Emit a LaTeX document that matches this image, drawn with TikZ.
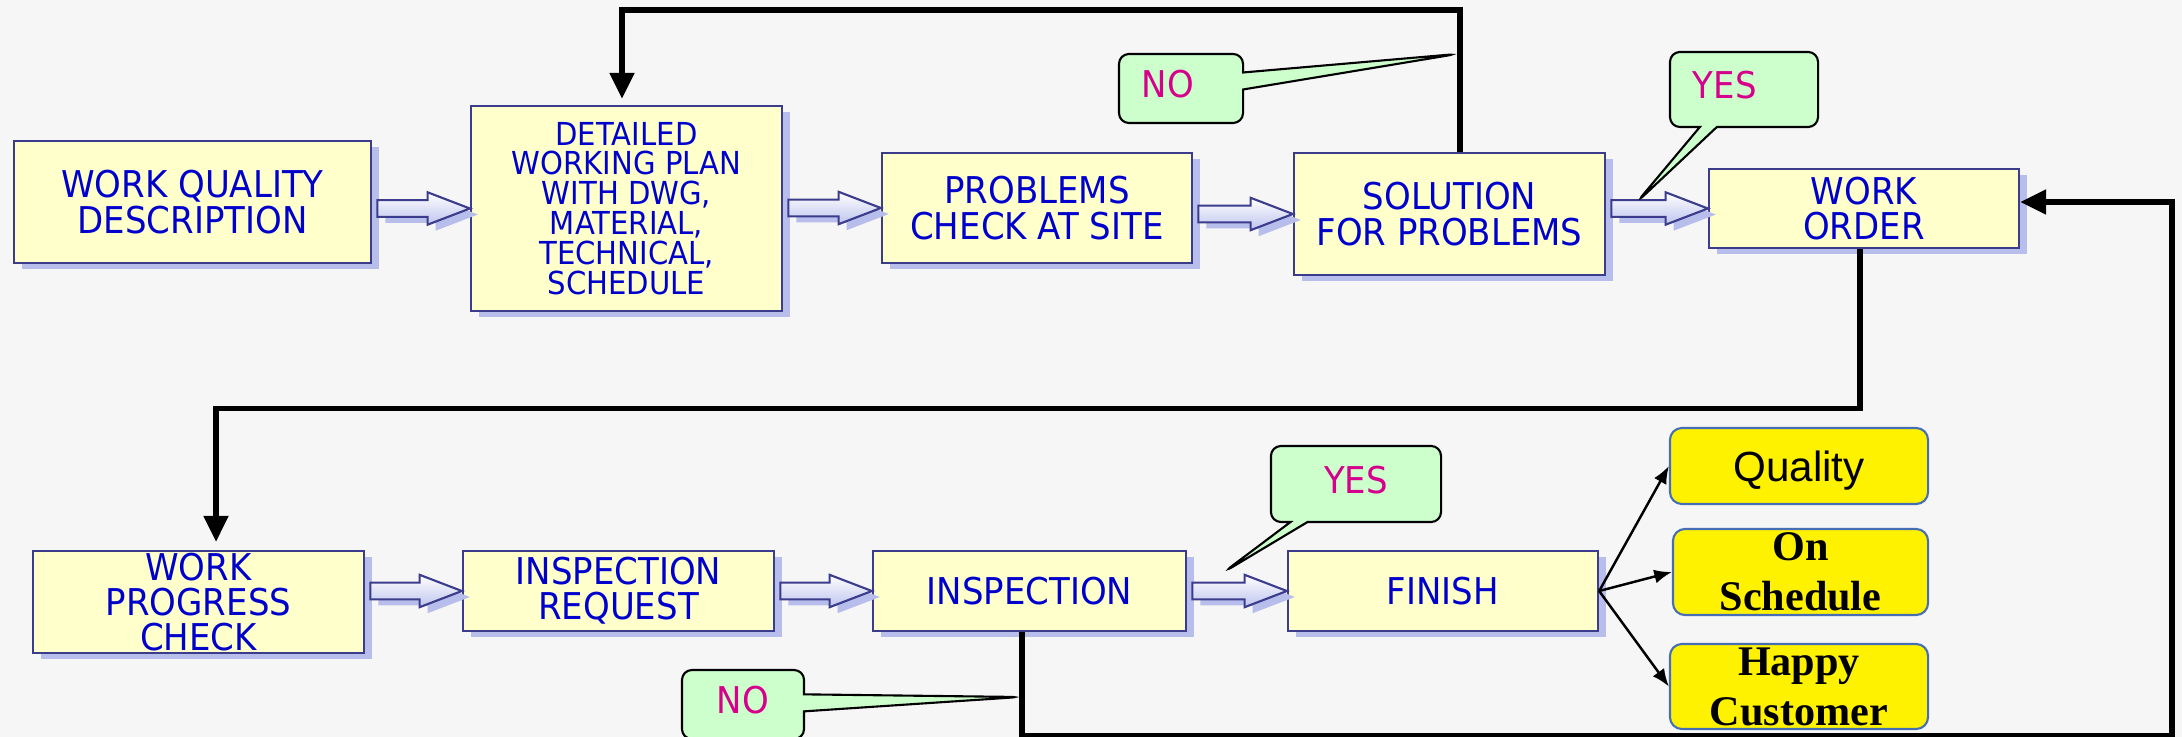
\documentclass[tikz,border=0pt]{standalone}
\usepackage{fontspec}
\usetikzlibrary{arrows.meta,calc,shadows,shapes.callouts}
\newfontfamily\boxfont{DejaVu Sans}[FakeStretch=0.92]
\newfontfamily\arialfont{Liberation Sans}
\newfontfamily\timesfont{Liberation Serif}
\definecolor{paper}{RGB}{246,246,246}
\definecolor{boxfill}{RGB}{255,255,204}
\definecolor{boxrim}{RGB}{60,60,140}
\definecolor{boxtext}{RGB}{0,0,204}
\definecolor{shadowblue}{RGB}{184,190,236}
\definecolor{arrowblue}{RGB}{190,196,238}
\definecolor{notefill}{RGB}{204,255,204}
\definecolor{notetext}{RGB}{214,0,140}
\definecolor{resultrim}{RGB}{70,110,180}

\newcommand{\fatarrow}[2]{%
  \path let \p1=(#1.east), \p2=(#2.west) in
    coordinate (fa-s) at (\x1+1.5pt,\y2)
    coordinate (fa-h) at (\x2-12pt,\y2)
    coordinate (fa-t) at (\x2,\y2);
  \draw[fat] ([yshift=2.4pt]fa-s) -- ([yshift=2.4pt]fa-h) -- ([yshift=4.6pt]fa-h)
    -- (fa-t) -- ([yshift=-4.6pt]fa-h) -- ([yshift=-2.4pt]fa-h) -- ([yshift=-2.4pt]fa-s) -- cycle;
}

\begin{document}
\begin{tikzpicture}[x=0.01cm,y=-0.01cm,
    stage/.style={draw=boxrim,line width=0.6pt,fill=boxfill,text=boxtext,align=center,inner sep=0pt,
      font=\boxfont\fontsize{10.5}{10}\selectfont,
      drop shadow={shadow xshift=0.08cm,shadow yshift=-0.06cm,fill=shadowblue,opacity=1}},
    note/.style={rectangle callout,draw=black,line width=0.6pt,fill=notefill,text=notetext,
      rounded corners=0.1cm,inner sep=0pt,callout pointer width=0.17cm,text depth=0.09cm,
      font=\boxfont\fontsize{10.5}{10}\selectfont},
    result/.style={draw=resultrim,line width=0.6pt,fill=yellow,rounded corners=0.12cm,
      align=center,inner sep=0pt},
    flow/.style={line width=1.5pt,-{Triangle[length=7.4pt,width=6.8pt]}},
    spoke/.style={line width=0.7pt,-{Latex[length=5pt,width=4pt]}},
    fat/.style={draw=boxrim,line width=0.6pt,top color=white,bottom color=arrowblue,
      preaction={fill=shadowblue,transform canvas={shift={(0.08cm,-0.06cm)}}}}]
\useasboundingbox (0,0) rectangle (2182,737);
\fill[paper] (0,0) rectangle (2182,737);

\node[stage,minimum width=3.57cm,minimum height=1.22cm] (describe) at (192.5,202) {WORK QUALITY\\DESCRIPTION};
\node[stage,minimum width=3.11cm,minimum height=2.05cm,font=\boxfont\fontsize{9}{8.5}\selectfont] (plan) at (626.5,208.5)
  {DETAILED\\WORKING PLAN\\WITH DWG,\\MATERIAL,\\TECHNICAL,\\SCHEDULE};
\node[stage,minimum width=3.10cm,minimum height=1.10cm] (check) at (1037,208) {PROBLEMS\\CHECK AT SITE};
\node[stage,minimum width=3.11cm,minimum height=1.22cm] (solve) at (1449.5,214) {SOLUTION\\FOR PROBLEMS};
\node[stage,minimum width=3.10cm,minimum height=0.79cm] (order) at (1864,208.5) {WORK\\ORDER};
\node[stage,minimum width=3.31cm,minimum height=1.02cm] (progress) at (198.5,602) {WORK\\PROGRESS\\CHECK};
\node[stage,minimum width=3.11cm,minimum height=0.80cm] (request) at (618.5,591) {INSPECTION\\REQUEST};
\node[stage,minimum width=3.13cm,minimum height=0.80cm] (inspect) at (1029.5,591) {INSPECTION};
\node[stage,minimum width=3.10cm,minimum height=0.80cm] (finish) at (1443,591) {FINISH};

\node[result,minimum width=2.58cm,minimum height=0.76cm,text depth=0pt,font=\arialfont\fontsize{12}{14}\selectfont] (qual) at (1799,466) {Quality};
\node[result,minimum width=2.55cm,minimum height=0.86cm,font=\timesfont\bfseries\fontsize{12}{14.2}\selectfont] (ontime) at (1800.5,572) {On\\Schedule};
\node[result,minimum width=2.58cm,minimum height=0.85cm,font=\timesfont\bfseries\fontsize{12}{14.2}\selectfont] (happy) at (1799,686.5) {Happy\\Customer};

\coordinate (toprail) at (0,10);
\coordinate (midrail) at (0,408.5);
\coordinate (corner) at (2172,736);
\coordinate (solout) at ([xshift=0.105cm]solve.north);
\coordinate (planin) at ([xshift=-0.045cm,yshift=0.06cm]plan.north);
\coordinate (orderout) at ([xshift=-0.04cm]order.south);
\coordinate (progin) at ([xshift=0.175cm,yshift=0.08cm]progress.north);
\coordinate (inspout) at ([xshift=-0.075cm]inspect.south);
\coordinate (orderin) at ([yshift=0.065cm]order.east);

\draw[flow] (solout) |- (planin |- toprail) -- (planin);
\draw[flow] (orderout) |- (progin |- midrail) -- (progin);
\draw[flow] (inspout) |- (corner) |- (orderin);

\fatarrow{describe}{plan}
\fatarrow{plan}{check}
\fatarrow{check}{solve}
\fatarrow{solve}{order}
\fatarrow{progress}{request}
\fatarrow{request}{inspect}
\fatarrow{inspect}{finish}

\draw[spoke] (finish.east) -- (qual.west);
\draw[spoke] (finish.east) -- (ontime.west);
\draw[spoke] (finish.east) -- (happy.west);

\coordinate (no-top-tip) at (1457,54);
\coordinate (yes-top-tip) at (1637,202);
\coordinate (yes-low-tip) at (1224,572);
\coordinate (no-low-tip) at (1020,697);
\node[note,callout absolute pointer={(no-top-tip)},minimum width=1.24cm,minimum height=0.69cm,
  text width=0.78cm,inner xsep=0.23cm,align=left] (no-top) at (1181,88.5) {NO};
\node[note,callout absolute pointer={(yes-top-tip)},minimum width=1.48cm,minimum height=0.75cm,
  text width=1.02cm,inner xsep=0.23cm,align=left] (yes-top) at (1744,89.5) {YES};
\node[note,callout absolute pointer={(yes-low-tip)},minimum width=1.70cm,minimum height=0.76cm] (yes-low) at (1356,484) {YES};
\node[note,callout absolute pointer={(no-low-tip)},minimum width=1.22cm,minimum height=0.69cm] (no-low) at (743,704.5) {NO};
\end{tikzpicture}
\end{document}
